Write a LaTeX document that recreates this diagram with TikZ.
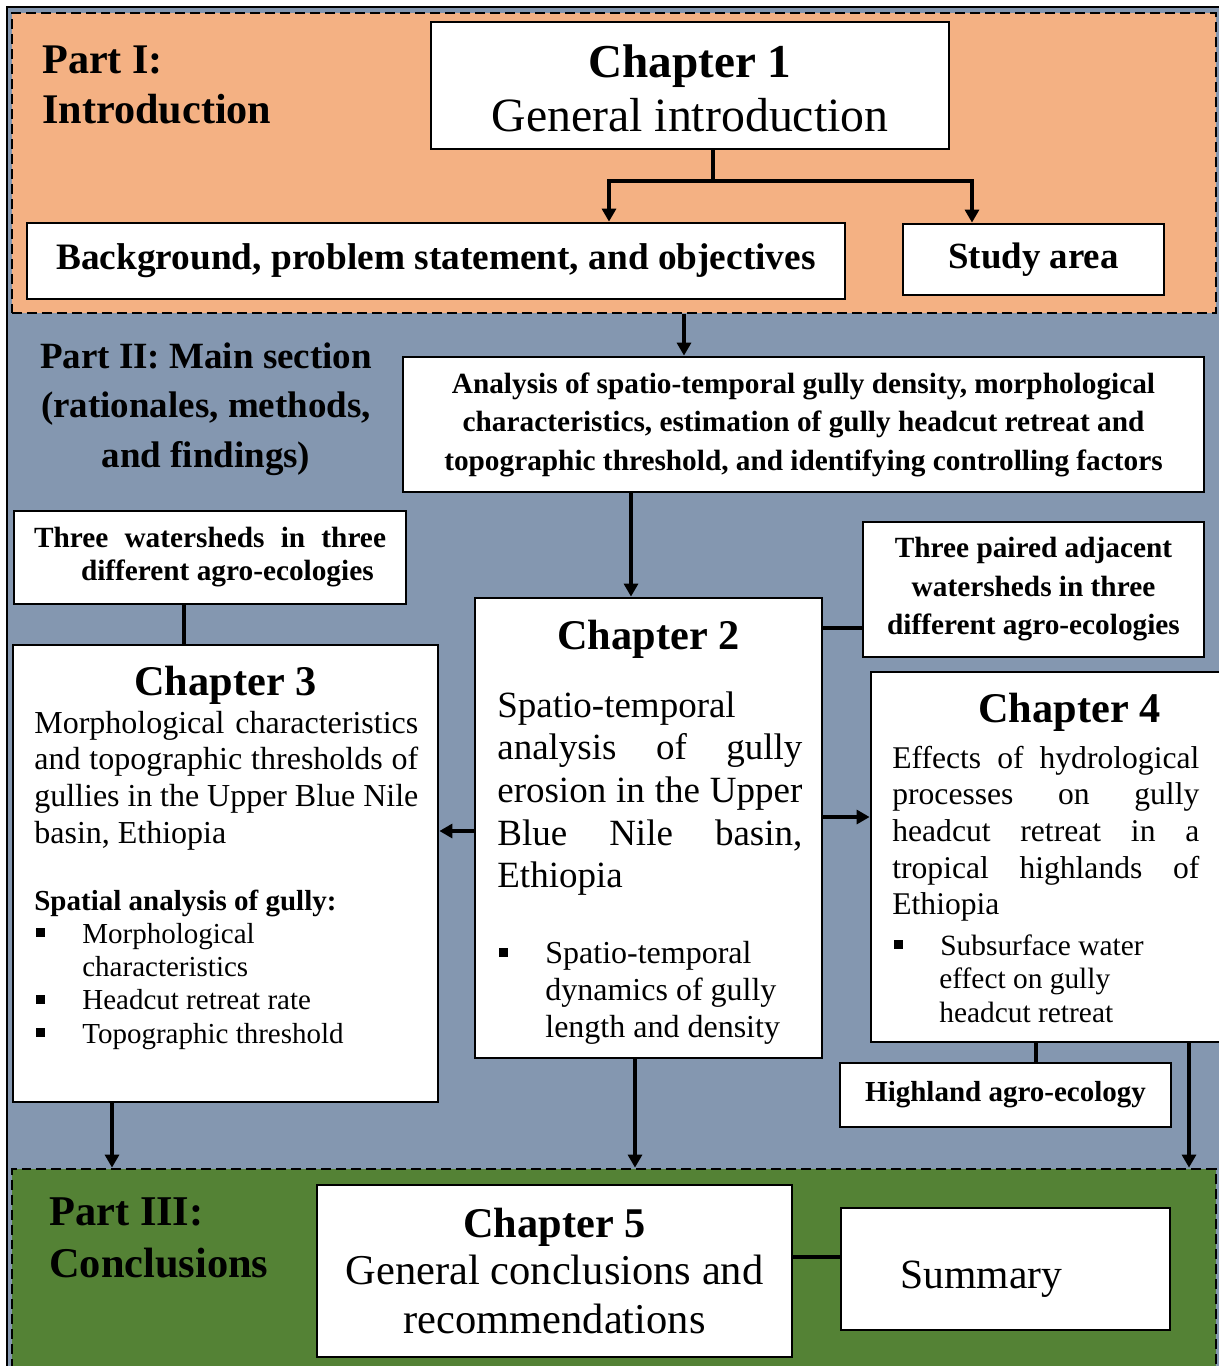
\documentclass[tikz,border=0pt]{standalone}
\usepackage{fontspec}
\setmainfont{Liberation Serif}
\usetikzlibrary{fit,arrows.meta}
\newlength{\pxu}
\setlength{\pxu}{0.02cm}
\definecolor{introfill}{HTML}{F4B183}
\definecolor{mainfill}{HTML}{8497B0}
\definecolor{endfill}{HTML}{548235}
\newcommand{\bulsq}{\makebox[48\pxu][l]{\hspace{2\pxu}\rule[6\pxu]{9\pxu}{9\pxu}}}

\begin{document}
\begin{tikzpicture}[x=0.02cm, y=-0.02cm]
    \tikzstyle{region}=[draw, inner sep=0pt, line width=1.6pt, dash pattern=on 0.2cm off 0.1cm]
    \tikzstyle{box}=[draw, fill=white, line width=1.6pt, inner sep=0pt]
    \tikzstyle{txt}=[inner sep=0pt, anchor=base west]
    \tikzstyle{ctxt}=[inner sep=0pt, anchor=base]
    \tikzstyle{link}=[line width=1.8pt]
    \tikzstyle{flow}=[link, -{Triangle[length=0.26cm, width=0.28cm]}]
    \tikzstyle{chap}=[ctxt, font=\fontsize{42.3\pxu}{50\pxu}\selectfont\bfseries]
    \useasboundingbox (0,0) rectangle (1219,1366);
    \clip (0,0) rectangle (1219,1366);

    \node[fit={(7,7) (1240,1390)}, inner sep=0pt, draw, line width=1.2pt, fill=mainfill] (part2) {};
    \node[region, fit={(12,13) (1216,313)}, fill=introfill] (part1) {};
    \node[region, fit={(12,1169) (1216,1390)}, fill=endfill] (part3) {};

    \node[txt, font=\fontsize{42.2\pxu}{50\pxu}\selectfont\bfseries] (p1lbl) at (42,73)
        {\parbox[t]{300\pxu}{Part I:\\Introduction}};
    \node[ctxt, font=\fontsize{37\pxu}{49.5\pxu}\selectfont\bfseries] (p2lbl) at (206,368)
        {\parbox[t]{360\pxu}{\centering Part II: Main section\\(rationales, methods,\\and findings)}};
    \node[txt, font=\fontsize{42.4\pxu}{52\pxu}\selectfont\bfseries] (p3lbl) at (49,1225)
        {\parbox[t]{300\pxu}{Part III:\\Conclusions}};

    \node[box, fit={(431,22) (949,149)}] (ch1) {};
    \node[ctxt, font=\fontsize{47.2\pxu}{54\pxu}\selectfont\bfseries] (ch1head) at (690,77) {Chapter 1};
    \node[ctxt, font=\fontsize{47.8\pxu}{54\pxu}\selectfont] (ch1body) at (690,131) {General introduction};
    \node[box, minimum width=16.36cm, minimum height=1.52cm, font=\fontsize{37.3\pxu}{44\pxu}\selectfont\bfseries] (bg) at (436,261)
        {Background, problem statement, and objectives};
    \node[box, minimum width=5.22cm, minimum height=1.42cm, font=\fontsize{36.9\pxu}{44\pxu}\selectfont\bfseries] (study) at (1033.5,259.5) {Study area};

    \node[box, minimum width=16.02cm, minimum height=2.7cm, align=center, font=\fontsize{29.3\pxu}{38.5\pxu}\selectfont\bfseries] (ana) at (803.5,424.5)
        {Analysis of spatio-temporal gully density, morphological\\characteristics, estimation of gully headcut retreat and\\topographic threshold, and identifying controlling factors};
    \node[box, minimum width=7.84cm, minimum height=1.86cm, font=\fontsize{29.3\pxu}{33\pxu}\selectfont\bfseries] (ws3) at (210,557.5)
        {\parbox{352\pxu}{Three watersheds in three\linebreak\hspace*{47\pxu}different agro-ecologies}};
    \node[box, minimum width=6.82cm, minimum height=2.7cm, align=center, font=\fontsize{29.3\pxu}{38.5\pxu}\selectfont\bfseries] (pair3) at (1033.5,589.5)
        {Three paired adjacent\\watersheds in three\\different agro-ecologies};

    \node[box, fit={(13,645) (438,1102)}] (ch3) {};
    \node[chap] (ch3head) at (225.5,695) {Chapter 3};
    \node[txt, font=\fontsize{32\pxu}{36.7\pxu}\selectfont] (ch3body) at (34,733)
        {\parbox[t]{384\pxu}{Morphological characteristics\linebreak and topographic thresholds of\linebreak gullies in the Upper Blue Nile\linebreak basin, Ethiopia}};
    \node[txt, font=\fontsize{29\pxu}{33.3\pxu}\selectfont] (ch3list) at (34,910)
        {\parbox[t]{385\pxu}{\raggedright\textbf{Spatial analysis of gully:}\\\bulsq Morphological\\\hspace*{48\pxu}characteristics\\\bulsq Headcut retreat rate\\\bulsq Topographic threshold}};

    \node[box, fit={(475,598) (822,1058)}] (ch2) {};
    \node[chap] (ch2head) at (648.5,649) {Chapter 2};
    \node[txt, font=\fontsize{37\pxu}{42.7\pxu}\selectfont] (ch2body) at (497,717)
        {\parbox[t]{305\pxu}{Spatio-temporal\linebreak analysis of gully\linebreak erosion in the Upper\linebreak Blue Nile basin,\linebreak Ethiopia}};
    \node[txt, font=\fontsize{32\pxu}{37\pxu}\selectfont] (ch2list) at (497,963)
        {\parbox[t]{306\pxu}{\raggedright\bulsq Spatio-temporal\\\hspace*{48\pxu}dynamics of gully\\\hspace*{48\pxu}length and density}};

    \node[box, fit={(871,672) (1268,1042)}] (ch4) {};
    \node[chap] (ch4head) at (1069.5,722) {Chapter 4};
    \node[txt, font=\fontsize{31.6\pxu}{36.7\pxu}\selectfont] (ch4body) at (892,768)
        {\parbox[t]{307\pxu}{Effects of hydrological\linebreak processes on gully\linebreak headcut retreat in a\linebreak tropical highlands of\linebreak Ethiopia}};
    \node[txt, font=\fontsize{29.4\pxu}{33.5\pxu}\selectfont] (ch4list) at (892,955)
        {\parbox[t]{308\pxu}{\raggedright\bulsq Subsurface water\\\hspace*{47\pxu}effect on gully\\\hspace*{47\pxu}headcut retreat}};
    \node[box, minimum width=6.62cm, minimum height=1.28cm, font=\fontsize{29\pxu}{34\pxu}\selectfont\bfseries] (high) at (1005.5,1095) {Highland agro-ecology};

    \node[box, fit={(317,1185) (792,1357)}] (ch5) {};
    \node[chap] (ch5head) at (554.5,1237) {Chapter 5};
    \node[ctxt, font=\fontsize{42.5\pxu}{49\pxu}\selectfont] (ch5body) at (554.5,1284)
        {\parbox[t]{470\pxu}{\centering General conclusions and\\recommendations}};
    \node[box, fit={(841,1208) (1170,1330)}] (summ) {};
    \node[txt, font=\fontsize{41.6\pxu}{48\pxu}\selectfont] (summtxt) at (900,1288) {Summary};

    \coordinate (split) at (713,181);
    \coordinate (tobg) at (609,181);
    \coordinate (tostudy) at (972,181);
    \coordinate (down1) at (684,313);
    \coordinate (down2) at (631,0);
    \coordinate (tie3) at (184,0);
    \coordinate (tie2) at (0,628);
    \coordinate (left2) at (0,831);
    \coordinate (right2) at (0,817);
    \coordinate (tie4) at (1036,0);
    \coordinate (out3) at (112,0);
    \coordinate (out2) at (635,0);
    \coordinate (out4) at (1189,0);
    \coordinate (tie5) at (0,1257);
    \draw[link] (ch1.south -| split) -- (split);
    \draw[flow] (split) -| (bg.north -| tobg);
    \draw[flow] (split) -| (study.north -| tostudy);
    \draw[flow] (part1.south -| down1) -- (ana.north -| down1);
    \draw[flow] (ana.south -| down2) -- (ch2.north -| down2);
    \draw[link] (ws3.south -| tie3) -- (ch3.north -| tie3);
    \draw[link] (ch2.east |- tie2) -- (pair3.west |- tie2);
    \draw[flow] (ch2.west |- left2) -- (ch3.east |- left2);
    \draw[flow] (ch2.east |- right2) -- (ch4.west |- right2);
    \draw[link] (ch4.south -| tie4) -- (high.north -| tie4);
    \draw[flow] (ch3.south -| out3) -- (part3.north -| out3);
    \draw[flow] (ch2.south -| out2) -- (part3.north -| out2);
    \draw[flow] (ch4.south -| out4) -- (part3.north -| out4);
    \draw[link] (ch5.east |- tie5) -- (summ.west |- tie5);
\end{tikzpicture}
\end{document}
